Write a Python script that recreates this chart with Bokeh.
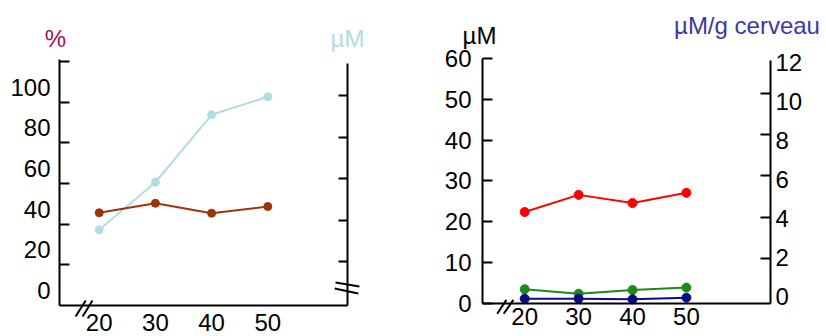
from bokeh.plotting import figure
from bokeh.models import Range1d, LinearAxis, FixedTicker, Label, Arrow, Grid
from bokeh.layouts import row
from bokeh.embed import file_html
from bokeh.resources import INLINE

# ---------------- data ----------------
ages = [20, 30, 40, 50]
x_ticks = [20, 30, 40, 50]

# left panel
pct_brown = [45.6, 50.3, 45.4, 48.7]          # % (left axis)
um_lightblue = [35.3, 58.2, 90.7, 99.4]       # µM (right axis, unlabelled)
left_pct_labels = [0, 20, 40, 60, 80, 100]
left_pct_ticks = [20, 40, 60, 80, 100, 120]
left_um_ticks = [20, 40, 60, 80, 100]

# right panel
um_red = [22.4, 26.6, 24.6, 27.1]             # µM (left axis)
um_green = [3.5, 2.4, 3.3, 3.9]               # µM (left axis)
umg_blue = [0.05, 0.05, 0.02, 0.1]            # µM/g cerveau (right axis)
right_um_ticks = [0, 10, 20, 30, 40, 50, 60]
right_umg_labels = [0, 2, 4, 6, 8, 10, 12]
right_umg_ticks = [2, 4, 6, 8, 10]

FONT = "Liberation Sans"
FS = "24px"
C_BROWN = "#a0330a"
C_LBLUE = "#b0dde2"
C_PCT = "#a3104a"
C_RED = "#ff0000"
C_GREEN = "#1a8a1a"
C_NAVY = "#0a0a88"
C_UMG = "#3a3aa6"


def base_fig(width, xr, yr):
    p = figure(width=width, height=336, x_range=xr, y_range=yr,
               output_backend="svg", toolbar_location=None,
               x_axis_location=None, y_axis_location=None,
               min_border=0)
    p.outline_line_color = None
    p.background_fill_color = "white"
    p.border_fill_color = "white"
    p.renderers = [r for r in p.renderers if not isinstance(r, Grid)]
    p.center = [r for r in p.center if not isinstance(r, Grid)]
    return p


def x_axis(p, loc, bounds, standoff):
    ax = LinearAxis(ticker=FixedTicker(ticks=x_ticks, minor_ticks=[]),
                    fixed_location=loc, bounds=bounds,
                    major_tick_line_color=None, minor_tick_line_color=None,
                    major_tick_in=0, major_tick_out=0, axis_line_width=2,
                    major_label_standoff=standoff, major_label_text_font=FONT,
                    major_label_text_font_size=FS, major_label_text_color="black")
    p.add_layout(ax, "below")


def tick_axis(p, side, loc, bounds, ticks, range_name="default", tick_in=10):
    ax = LinearAxis(y_range_name=range_name, fixed_location=loc, bounds=bounds,
                    ticker=FixedTicker(ticks=ticks, minor_ticks=[]),
                    major_tick_in=tick_in, major_tick_out=0,
                    minor_tick_line_color=None, axis_line_width=2,
                    major_tick_line_width=2, major_label_text_font_size="0px",
                    major_label_text_color=None, major_label_standoff=0)
    p.add_layout(ax, side)


def label_axis(p, side, loc, ticks, range_name, standoff):
    ax = LinearAxis(y_range_name=range_name, fixed_location=loc,
                    ticker=FixedTicker(ticks=ticks, minor_ticks=[]),
                    axis_line_color=None, major_tick_line_color=None,
                    minor_tick_line_color=None, major_tick_in=0, major_tick_out=0,
                    major_label_standoff=standoff, major_label_text_font=FONT,
                    major_label_text_font_size=FS, major_label_text_color="black")
    p.add_layout(ax, side)


def brk(p, x0, y0, x1, y1, rn="default"):
    p.add_layout(Arrow(end=None, x_start=x0, y_start=y0, x_end=x1, y_end=y1,
                       line_width=2, line_color="black", y_range_name=rn))


# ---------------- left panel ----------------
p1 = base_fig(440, Range1d(2.438, 80.73), Range1d(-15.25, 150.02))
p1.extra_y_ranges = {"lbl": Range1d(-22.63, 142.64), "um": Range1d(-16.14, 145.78)}
x_axis(p1, 0, (12.94, 64.18), 9)
tick_axis(p1, "left", 12.94, (0, 121), left_pct_ticks)
label_axis(p1, "left", 12.94, left_pct_labels, "lbl", 9)
tick_axis(p1, "right", 64.18, (-1.2, 115.4), left_um_ticks, "um", 9)

p1.line(ages, um_lightblue, y_range_name="um", line_color=C_LBLUE, line_width=2)
p1.scatter(ages, um_lightblue, y_range_name="um", size=8, color=C_LBLUE)
p1.line(ages, pct_brown, line_color=C_BROWN, line_width=2)
p1.scatter(ages, pct_brown, size=8, color=C_BROWN)

# axis breaks
brk(p1, 15.8, -5.4, 17.6, 2.5)
brk(p1, 17.05, -5.4, 18.8, 2.5)
brk(p1, 62.05, 11.3, 66.3, 9.35)
brk(p1, 61.9, 8.4, 66.1, 5.9)

p1.add_layout(Label(x=12.22, y=131.3, text="%", text_font=FONT, text_font_size=FS,
                    text_color=C_PCT, text_align="center", text_baseline="middle"))
p1.add_layout(Label(x=64.18, y=131.3, text="µM", text_font=FONT, text_font_size=FS,
                    text_color=C_LBLUE, text_align="center", text_baseline="middle"))

# ---------------- right panel ----------------
p2 = base_fig(386, Range1d(4.378, 75.99), Range1d(-8.08, 74.2))
p2.extra_y_ranges = {"rt": Range1d(-1.782, 14.509), "rl": Range1d(-2.051, 15.179)}
x_axis(p2, 0, (12.17, 65.6), 4)
lax = LinearAxis(ticker=FixedTicker(ticks=right_um_ticks, minor_ticks=[]),
                 fixed_location=12.17, bounds=(0, 60),
                 major_tick_in=10, major_tick_out=0, minor_tick_line_color=None,
                 axis_line_width=2, major_tick_line_width=2, major_label_standoff=11,
                 major_label_text_font=FONT, major_label_text_font_size=FS,
                 major_label_text_color="black")
p2.add_layout(lax, "left")
tick_axis(p2, "right", 65.6, (-0.18, 11.6), right_umg_ticks, "rt", 10)
label_axis(p2, "right", 65.6, right_umg_labels, "rl", 5)

p2.line(ages, um_red, line_color=C_RED, line_width=2)
p2.scatter(ages, um_red, size=9, color=C_RED)
p2.line(ages, um_green, line_color=C_GREEN, line_width=2)
p2.scatter(ages, um_green, size=9, color=C_GREEN)
p2.line(ages, umg_blue, y_range_name="rt", line_color=C_NAVY, line_width=2)
p2.scatter(ages, umg_blue, y_range_name="rt", size=9, color=C_NAVY)

brk(p2, 14.9, -2.5, 16.6, 0.9)
brk(p2, 16.1, -2.5, 17.9, 0.9)

p2.add_layout(Label(x=11.61, y=65.6, text="µM", text_font=FONT, text_font_size=FS,
                    text_color="black", text_align="center", text_baseline="middle"))
p2.add_layout(Label(x=61.24, y=68.1, text="µM/g cerveau", text_font=FONT,
                    text_font_size=FS, text_color=C_UMG, text_align="center",
                    text_baseline="middle"))

layout = row(p1, p2)
open("out.html", "w").write(file_html(layout, INLINE))
